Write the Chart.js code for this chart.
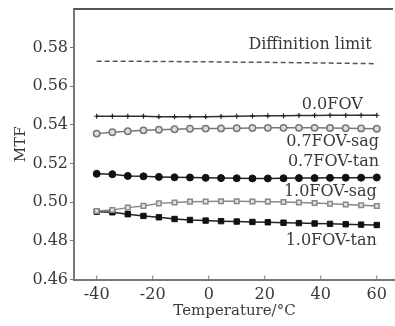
<!DOCTYPE html>
<html><head><meta charset="utf-8">
<script src="https://cdn.jsdelivr.net/npm/chart.js@4/dist/chart.umd.min.js"></script>
<style>html,body{margin:0;padding:0;background:#fff;overflow:hidden}#wrap{width:395px;height:326px}canvas{display:block}</style>
</head><body><div id="wrap"><canvas id="c" width="395" height="326"></canvas></div>
<script>
const temperatures = [-40,-34.4,-28.9,-23.3,-17.8,-12.2,-6.7,-1.1,4.4,10,15.6,21.1,26.7,32.2,37.8,43.3,48.9,54.4,60];
const diffractionLimit = [0.5730,0.5730,0.5729,0.5729,0.5728,0.5728,0.5727,0.5727,0.5726,0.5725,0.5725,0.5724,0.5723,0.5722,0.5721,0.5720,0.5719,0.5718,0.5717];
const fov00 = [0.5445,0.5445,0.5445,0.5445,0.5442,0.5442,0.5442,0.5442,0.5444,0.5445,0.5446,0.5447,0.5448,0.5449,0.5449,0.5450,0.5450,0.5450,0.5450];
const fov07sag = [0.5355,0.5362,0.5367,0.5372,0.5375,0.5378,0.5380,0.5381,0.5382,0.5383,0.5384,0.5385,0.5385,0.5385,0.5385,0.5384,0.5383,0.5382,0.5380];
const fov07tan = [0.5147,0.5145,0.5136,0.5134,0.5131,0.5129,0.5128,0.5126,0.5125,0.5124,0.5123,0.5123,0.5124,0.5125,0.5125,0.5126,0.5127,0.5127,0.5128];
const fov10sag = [0.4955,0.4960,0.4972,0.4981,0.4994,0.4998,0.5003,0.5004,0.5005,0.5005,0.5004,0.5003,0.5001,0.4999,0.4996,0.4992,0.4988,0.4984,0.4980];
const fov10tan = [0.4951,0.4948,0.4938,0.4929,0.4922,0.4913,0.4908,0.4905,0.4902,0.4900,0.4898,0.4896,0.4894,0.4892,0.4890,0.4888,0.4886,0.4884,0.4882];
const yTicks = [0.46,0.48,0.50,0.52,0.54,0.56,0.58];
const xTicks = [-40,-20,0,20,40,60];
const seriesLabels = ["Diffinition limit","0.0FOV","0.7FOV-sag","0.7FOV-tan","1.0FOV-sag","1.0FOV-tan"];
// label anchors (right edge, vertical middle) in data units
const labelAnchors = [[58.2,0.5812],[55.0,0.5504],[60.8,0.5310],[60.8,0.5209],[60.0,0.5056],[60.0,0.4799]];

const FONT = '"DejaVu Serif", "Liberation Serif", serif';
const TXT = '#3a3a3a';
const pts = arr => temperatures.map((t,i)=>({x:t,y:arr[i]}));

const labelPlugin = {
  id:'lbl',
  afterDatasetsDraw(chart){
    const {ctx, chartArea, scales} = chart;
    ctx.save();
    ctx.strokeStyle = '#555'; ctx.lineWidth = 2;
    ctx.beginPath(); ctx.moveTo(chartArea.left, chartArea.top); ctx.lineTo(393, chartArea.top); ctx.stroke();
    ctx.strokeStyle = '#777'; ctx.lineWidth = 1;
    xTicks.forEach(v=>{const px = scales.x.getPixelForValue(v); ctx.beginPath(); ctx.moveTo(px, chartArea.bottom); ctx.lineTo(px, chartArea.bottom-4); ctx.stroke();});
    ctx.fillStyle = TXT; ctx.font = '16px ' + FONT; ctx.textAlign = 'right'; ctx.textBaseline = 'middle';
    seriesLabels.forEach((s,i)=>{
      ctx.fillText(s, scales.x.getPixelForValue(labelAnchors[i][0]), scales.y.getPixelForValue(labelAnchors[i][1]));
    });
    ctx.restore();
  }
};

new Chart(document.getElementById('c'), {
  type:'line',
  data:{datasets:[
    {data:pts(diffractionLimit), borderColor:'#555', borderWidth:1.5, borderDash:[5,3], pointRadius:0},
    {data:pts(fov00), borderColor:'#333', borderWidth:1.5, pointStyle:'cross', pointRadius:2.5, pointBorderColor:'#222', pointBorderWidth:1.2},
    {data:pts(fov07sag), borderColor:'#777', borderWidth:1.5, pointStyle:'circle', pointRadius:3.2, pointBackgroundColor:'#ddd', pointBorderColor:'#777', pointBorderWidth:1.5},
    {data:pts(fov07tan), borderColor:'#222', borderWidth:1.5, pointStyle:'circle', pointRadius:3.5, pointBackgroundColor:'#111', pointBorderColor:'#111', pointBorderWidth:1},
    {data:pts(fov10sag), borderColor:'#888', borderWidth:1.5, pointStyle:'rect', pointRadius:3.2, pointBackgroundColor:'#e4e4e4', pointBorderColor:'#888', pointBorderWidth:1.5},
    {data:pts(fov10tan), borderColor:'#222', borderWidth:1.5, pointStyle:'rect', pointRadius:3.8, pointBackgroundColor:'#111', pointBorderColor:'#111', pointBorderWidth:1}
  ]},
  options:{
    responsive:false, animation:false, devicePixelRatio:1,
    layout:{autoPadding:false, padding:{top:9,right:0,left:0,bottom:0}},
    plugins:{legend:{display:false}, tooltip:{enabled:false}},
    scales:{
      x:{type:'linear', min:-48.1, max:66.5,
        afterBuildTicks(s){ s.ticks = xTicks.map(v=>({value:v})); },
        afterFit(s){ s.height = 46.5; s.paddingLeft = 0; s.paddingRight = 0; },
        grid:{drawOnChartArea:false, drawTicks:false},
        border:{color:'#777', width:2},
        ticks:{color:TXT, font:{family:FONT, size:16}, padding:6, maxRotation:0, callback:v=>v},
        title:{display:true, text:'Temperature/°C', color:TXT, font:{family:FONT, size:15}, padding:{top:0,bottom:6}}
      },
      y:{min:0.46, max:0.60,
        afterBuildTicks(s){ s.ticks = yTicks.map(v=>({value:v})); },
        afterFit(s){ s.width = 74; s.paddingTop = 0; s.paddingBottom = 0; },
        grid:{drawOnChartArea:false, drawTicks:true, tickLength:4, color:'#777'},
        border:{color:'#777', width:2},
        ticks:{color:TXT, font:{family:FONT, size:16}, padding:2, callback:v=>v.toFixed(2)},
        title:{display:true, text:'MTF', color:TXT, font:{family:FONT, size:15}, padding:{top:12,bottom:0}}
      }
    }
  },
  plugins:[labelPlugin]
});
</script></body></html>
